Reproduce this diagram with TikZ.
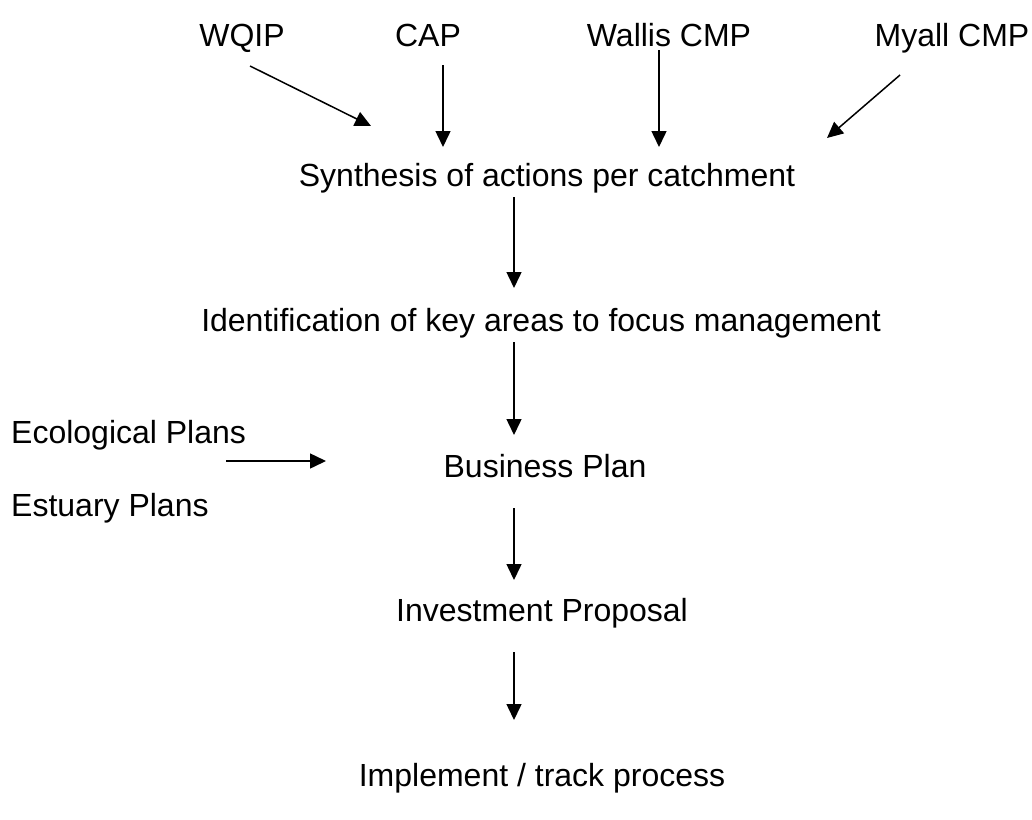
\documentclass[tikz,border=0pt]{standalone}
\usepackage{fontspec}
\setmainfont{Liberation Sans}
\usetikzlibrary{arrows.meta}
\begin{document}
\begin{tikzpicture}[x=1pt,y=-1pt,
  lbl/.style={inner sep=0pt,anchor=base,font=\fontsize{32}{38}\selectfont},
  arr/.style={line width=1.5pt,-{Triangle[length=16pt,width=15pt]}}]
\useasboundingbox (0,0) rectangle (1032,819);
\node[lbl] (wqip) at (242,46) {WQIP};
\node[lbl] (cap) at (428,46) {CAP};
\node[lbl] (wallis) at (669,46) {Wallis CMP};
\node[lbl] (myall) at (952,46) {Myall CMP};
\node[lbl] (syn) at (547,186) {Synthesis of actions per catchment};
\node[lbl] (ident) at (541,331) {Identification of key areas to focus management};
\node[lbl,anchor=base west] (eco) at (11,443) {Ecological Plans};
\node[lbl,anchor=base west] (est) at (11,516) {Estuary Plans};
\node[lbl] (bus) at (545,477) {Business Plan};
\node[lbl] (inv) at (542,621) {Investment Proposal};
\node[lbl] (impl) at (542,786) {Implement / track process};
% arrow endpoints
\coordinate (a1s) at (250,66); \coordinate (a1e) at (371,126);
\coordinate (a2s) at (443,65); \coordinate (a2e) at (443,147);
\coordinate (a3s) at (659,50); \coordinate (a3e) at (659,147);
\coordinate (a4s) at (900,75); \coordinate (a4e) at (827,138);
\coordinate (a5s) at (514,197); \coordinate (a5e) at (514,288);
\coordinate (a6s) at (514,342); \coordinate (a6e) at (514,435);
\coordinate (a7s) at (226,461); \coordinate (a7e) at (326,461);
\coordinate (a8s) at (514,508); \coordinate (a8e) at (514,580);
\coordinate (a9s) at (514,652); \coordinate (a9e) at (514,720);
\draw[arr] (a1s) -- (a1e);
\draw[arr] (a2s) -- (a2e);
\draw[arr] (a3s) -- (a3e);
\draw[arr] (a4s) -- (a4e);
\draw[arr] (a5s) -- (a5e);
\draw[arr] (a6s) -- (a6e);
\draw[arr] (a7s) -- (a7e);
\draw[arr] (a8s) -- (a8e);
\draw[arr] (a9s) -- (a9e);
\end{tikzpicture}
\end{document}
